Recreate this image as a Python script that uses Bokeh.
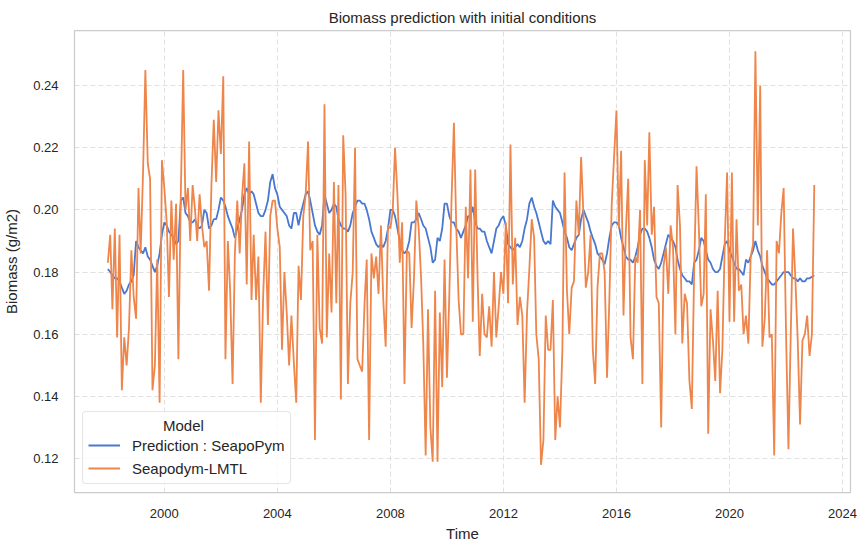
import pandas as pd
from bokeh.plotting import figure
from bokeh.models import (Range1d, FixedTicker, DatetimeTickFormatter, NumeralTickFormatter,
                          Legend, LegendItem, ColumnDataSource)
from bokeh.embed import file_html
from bokeh.resources import INLINE

# ---- data (monthly, Jan 1998 .. Jan 2023) ----
start_month = "1998-01-01"

seapodym_lmtl = [
    0.183, 0.192, 0.168, 0.194, 0.159, 0.192, 0.142, 0.159, 0.150, 0.162, 0.187, 0.172,
    0.165, 0.207, 0.186, 0.212, 0.245, 0.215, 0.210, 0.142, 0.150, 0.184, 0.138, 0.216,
    0.207, 0.196, 0.172, 0.203, 0.184, 0.202, 0.152, 0.205, 0.245, 0.200, 0.207, 0.190,
    0.208, 0.200, 0.190, 0.205, 0.195, 0.188, 0.190, 0.174, 0.208, 0.229, 0.209, 0.232,
    0.218, 0.243, 0.152, 0.190, 0.174, 0.144, 0.186, 0.203, 0.186, 0.204, 0.215, 0.176,
    0.222, 0.171, 0.192, 0.171, 0.185, 0.138, 0.172, 0.193, 0.163, 0.198, 0.203, 0.203,
    0.194, 0.188, 0.155, 0.180, 0.167, 0.150, 0.166, 0.151, 0.138, 0.182, 0.171, 0.198,
    0.205, 0.222, 0.187, 0.190, 0.126, 0.192, 0.162, 0.157, 0.234, 0.159, 0.186, 0.167,
    0.209, 0.170, 0.208, 0.139, 0.224, 0.205, 0.144, 0.170, 0.180, 0.220, 0.152, 0.150,
    0.148, 0.170, 0.184, 0.126, 0.186, 0.178, 0.185, 0.173, 0.195, 0.171, 0.156, 0.195,
    0.194, 0.200, 0.220, 0.205, 0.183, 0.196, 0.144, 0.187, 0.186, 0.162, 0.178, 0.203,
    0.194, 0.178, 0.157, 0.121, 0.168, 0.130, 0.119, 0.174, 0.119, 0.167, 0.143, 0.184,
    0.146, 0.173, 0.203, 0.228, 0.195, 0.171, 0.160, 0.160, 0.201, 0.178, 0.213, 0.164,
    0.213, 0.178, 0.153, 0.173, 0.160, 0.159, 0.169, 0.156, 0.180, 0.159, 0.169, 0.180,
    0.173, 0.196, 0.170, 0.221, 0.176, 0.191, 0.163, 0.172, 0.166, 0.138, 0.167, 0.181,
    0.197, 0.191, 0.160, 0.152, 0.118, 0.126, 0.166, 0.155, 0.155, 0.171, 0.126, 0.140,
    0.130, 0.155, 0.212, 0.174, 0.160, 0.175, 0.177, 0.203, 0.192, 0.217, 0.198, 0.175,
    0.180, 0.192, 0.155, 0.144, 0.175, 0.186, 0.186, 0.180, 0.146, 0.171, 0.202, 0.217,
    0.232, 0.194, 0.219, 0.166, 0.193, 0.210, 0.159, 0.152, 0.185, 0.183, 0.200, 0.144,
    0.216, 0.195, 0.225, 0.192, 0.201, 0.172, 0.170, 0.130, 0.182, 0.188, 0.173, 0.195,
    0.188, 0.160, 0.208, 0.195, 0.157, 0.173, 0.170, 0.145, 0.136, 0.180, 0.214, 0.194,
    0.169, 0.173, 0.205, 0.128, 0.168, 0.158, 0.145, 0.174, 0.141, 0.155, 0.190, 0.212,
    0.164, 0.212, 0.164, 0.197, 0.174, 0.176, 0.160, 0.166, 0.157, 0.185, 0.189, 0.251,
    0.195, 0.240, 0.156, 0.165, 0.187, 0.159, 0.160, 0.121, 0.190, 0.186, 0.199, 0.207,
    0.160, 0.123, 0.158, 0.194, 0.178, 0.158, 0.131, 0.158, 0.160, 0.166, 0.153, 0.160,
    0.208,
]

seapopym_prediction = [
    0.181, 0.180, 0.179, 0.178, 0.178, 0.177, 0.175, 0.173, 0.174, 0.176, 0.177, 0.179,
    0.190, 0.188, 0.187, 0.186, 0.188, 0.185, 0.184, 0.182, 0.180, 0.182, 0.186, 0.192,
    0.196, 0.195, 0.193, 0.192, 0.191, 0.189, 0.190, 0.203, 0.204, 0.199, 0.198, 0.196,
    0.196, 0.197, 0.195, 0.194, 0.195, 0.200, 0.199, 0.194, 0.195, 0.197, 0.197, 0.200,
    0.204, 0.203, 0.201, 0.198, 0.196, 0.194, 0.191, 0.194, 0.197, 0.200, 0.205, 0.207,
    0.205, 0.206, 0.205, 0.202, 0.199, 0.198, 0.198, 0.200, 0.203, 0.209, 0.2115, 0.207,
    0.205, 0.201, 0.200, 0.199, 0.198, 0.195, 0.194, 0.199, 0.199, 0.195, 0.199, 0.202,
    0.205, 0.206, 0.203, 0.199, 0.195, 0.193, 0.192, 0.195, 0.205, 0.202, 0.199, 0.200,
    0.202, 0.201, 0.197, 0.195, 0.194, 0.194, 0.193, 0.195, 0.199, 0.201, 0.203, 0.203,
    0.202, 0.202, 0.200, 0.197, 0.193, 0.191, 0.189, 0.188, 0.189, 0.188, 0.190, 0.194,
    0.200, 0.200, 0.198, 0.194, 0.190, 0.187, 0.186, 0.187, 0.190, 0.196, 0.196, 0.197,
    0.199, 0.197, 0.195, 0.194, 0.191, 0.188, 0.183, 0.184, 0.191, 0.190, 0.194, 0.202,
    0.202, 0.198, 0.196, 0.196, 0.194, 0.193, 0.191, 0.193, 0.195, 0.198, 0.198, 0.201,
    0.196, 0.194, 0.194, 0.193, 0.193, 0.190, 0.188, 0.186, 0.190, 0.194, 0.195, 0.197,
    0.198, 0.195, 0.189, 0.188, 0.187, 0.188, 0.189, 0.188, 0.190, 0.194, 0.197, 0.202,
    0.204, 0.201, 0.199, 0.196, 0.193, 0.190, 0.189, 0.190, 0.189, 0.203, 0.201, 0.200,
    0.199, 0.196, 0.193, 0.191, 0.188, 0.187, 0.189, 0.191, 0.192, 0.197, 0.200, 0.198,
    0.196, 0.193, 0.191, 0.189, 0.186, 0.185, 0.184, 0.1825, 0.186, 0.191, 0.195, 0.196,
    0.196, 0.195, 0.191, 0.188, 0.185, 0.184, 0.184, 0.183, 0.185, 0.188, 0.192, 0.194,
    0.194, 0.193, 0.191, 0.188, 0.184, 0.182, 0.181, 0.183, 0.186, 0.189, 0.192, 0.191,
    0.190, 0.188, 0.184, 0.181, 0.179, 0.178, 0.177, 0.177, 0.176, 0.183, 0.184, 0.187,
    0.191, 0.190, 0.187, 0.184, 0.183, 0.181, 0.180, 0.180, 0.181, 0.185, 0.189, 0.190,
    0.187, 0.185, 0.183, 0.181, 0.181, 0.180, 0.179, 0.184, 0.183, 0.185, 0.187, 0.190,
    0.187, 0.185, 0.182, 0.180, 0.178, 0.177, 0.176, 0.176, 0.177, 0.178, 0.179, 0.180,
    0.180, 0.180, 0.179, 0.178, 0.178, 0.177, 0.178, 0.177, 0.177, 0.178, 0.178, 0.1785,
    0.179,
]

series_labels = ["Prediction : SeapoPym", "Seapodym-LMTL"]
legend_title = "Model"
x_tick_years = [2000, 2004, 2008, 2012, 2016, 2020, 2024]
y_ticks = [0.12, 0.14, 0.16, 0.18, 0.20, 0.22, 0.24]

# ---- build ----
dates = pd.date_range(start_month, periods=len(seapodym_lmtl), freq="MS")
src = ColumnDataSource(dict(t=dates, pred=seapopym_prediction, lmtl=seapodym_lmtl))

FONT = "Liberation Sans"
TXT = "#262626"

p = figure(width=868, height=550, output_backend="svg", toolbar_location=None,
           x_axis_type="datetime",
           x_range=Range1d(pd.Timestamp("1996-10-27"), pd.Timestamp("2024-04-13")),
           y_range=Range1d(0.1091, 0.2577),
           min_border_left=73, min_border_right=18, min_border_top=30, min_border_bottom=58,
           title="Biomass prediction with initial conditions")

p.background_fill_color = "white"
p.border_fill_color = "white"
p.outline_line_color = "#cccccc"
p.outline_line_width = 1.25

p.title.align = "center"
p.title.text_font = FONT
p.title.text_font_size = "15px"
p.title.text_font_style = "normal"
p.title.text_color = TXT
p.title.offset = 0

r_pred = p.line("t", "pred", source=src, line_color="#4878d0", line_width=1.8)
r_lmtl = p.line("t", "lmtl", source=src, line_color="#ee854a", line_width=1.8)

tick_ms = [pd.Timestamp(f"{y}-01-01").value // 10**6 for y in x_tick_years]
p.xaxis.ticker = FixedTicker(ticks=tick_ms)
p.xaxis.formatter = DatetimeTickFormatter(years="%Y", months="%Y", days="%Y", hours="%Y",
                                          minutes="%Y", seconds="%Y", milliseconds="%Y",
                                          microseconds="%Y")
p.yaxis.ticker = FixedTicker(ticks=y_ticks)
p.yaxis.formatter = NumeralTickFormatter(format="0.00")

for ax in (p.xaxis, p.yaxis):
    ax.axis_line_color = None
    ax.major_tick_line_color = None
    ax.minor_tick_line_color = None
    ax.major_label_text_font = FONT
    ax.major_label_text_font_size = "13px"
    ax.major_label_text_color = TXT
    ax.major_label_standoff = 10
    ax.axis_label_text_font = FONT
    ax.axis_label_text_font_size = "15px"
    ax.axis_label_text_font_style = "normal"
    ax.axis_label_text_color = TXT

p.xaxis.axis_label = "Time"
p.yaxis.axis_label = "Biomass (g/m2)"
p.xaxis.axis_label_standoff = 4
p.yaxis.axis_label_standoff = 10

for g in (p.xgrid, p.ygrid):
    g.grid_line_color = "#cccccc"
    g.grid_line_alpha = 0.6
    g.grid_line_dash = "5 3"
    g.grid_line_width = 1

# legend title is centred in the box by padding it with no-break spaces
legend = Legend(items=[LegendItem(label=series_labels[0], renderers=[r_pred]),
                       LegendItem(label=series_labels[1], renderers=[r_lmtl])],
                location="bottom_left", title="\u00a0" * 18 + legend_title)
legend.margin = 8
legend.padding = 5
legend.spacing = 3
legend.label_height = 20
legend.glyph_height = 20
legend.glyph_width = 32
legend.label_standoff = 12
legend.label_text_font = FONT
legend.label_text_font_size = "15px"
legend.label_text_color = TXT
legend.title_text_font = FONT
legend.title_text_font_size = "15px"
legend.title_text_font_style = "normal"
legend.title_text_color = TXT
legend.title_standoff = 1
legend.border_line_color = "#cccccc"
legend.border_line_width = 1
legend.border_radius = 4
legend.background_fill_color = "white"
legend.background_fill_alpha = 0.8
p.add_layout(legend)

open("out.html", "w").write(file_html(p, INLINE))
